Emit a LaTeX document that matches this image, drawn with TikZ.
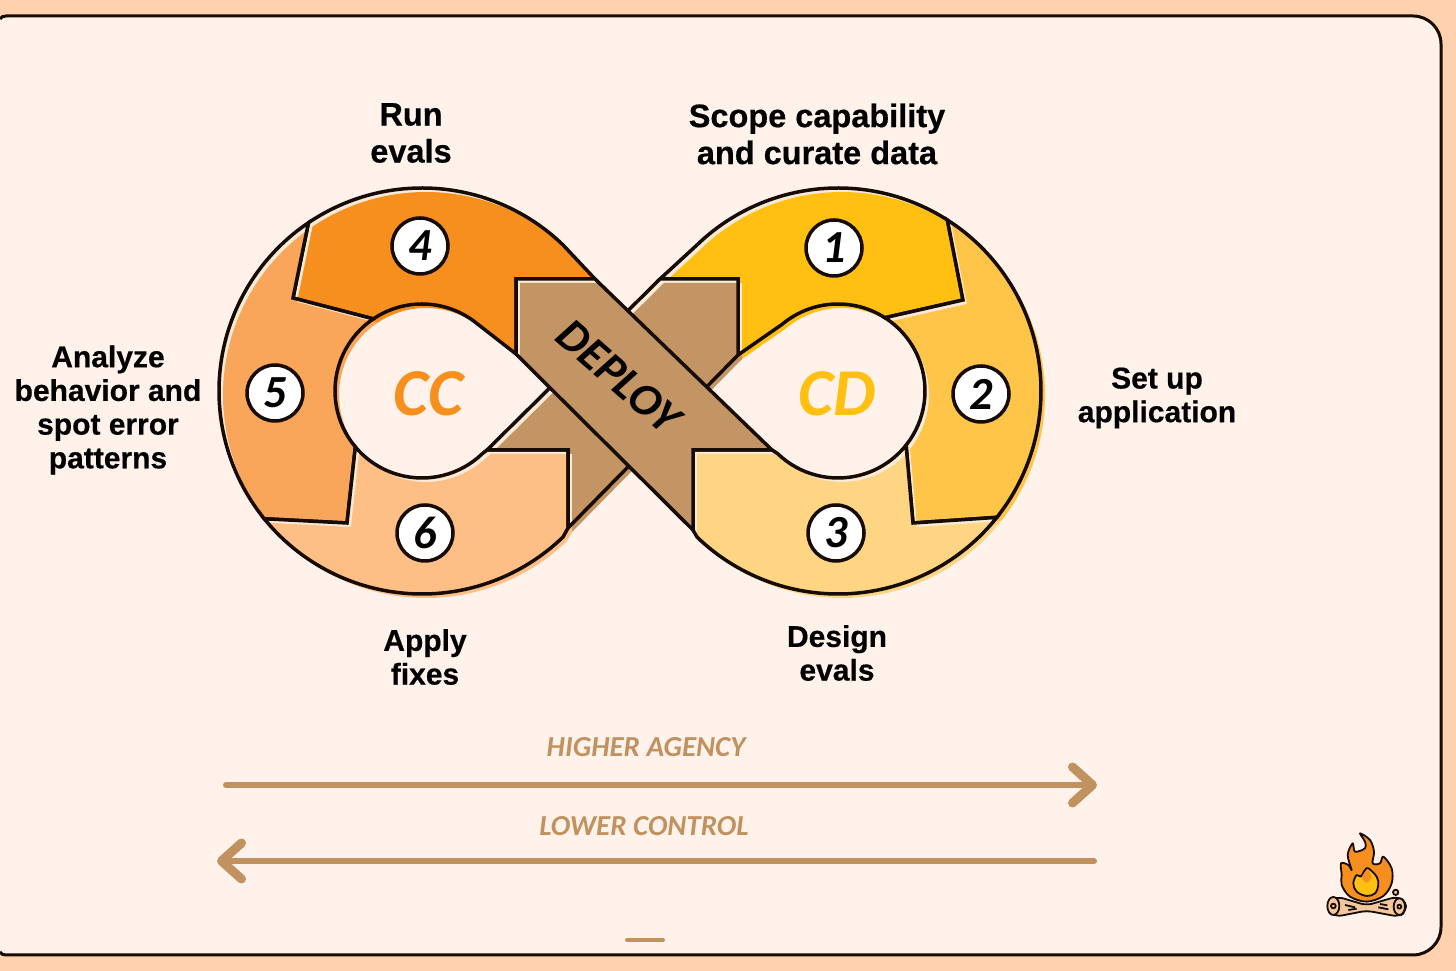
\documentclass[tikz,border=0pt]{standalone}
\usepackage{fontspec}
\usepackage{xcolor}
\usetikzlibrary{arrows.meta}
\setmainfont{Liberation Sans}[BoldFeatures={FakeBold=0.5}]
\newfontfamily\handfont{Carlito}
\definecolor{pagepeach}{HTML}{FFD1AE}
\definecolor{panelbg}{HTML}{FEF2EA}
\definecolor{inkline}{HTML}{170B05}
\definecolor{creamstrip}{HTML}{FBEBD6}
\definecolor{segfourcol}{HTML}{F68F1E}
\definecolor{segfivecol}{HTML}{F9A55A}
\definecolor{segsixcol}{HTML}{FDBF85}
\definecolor{segonecol}{HTML}{FFC011}
\definecolor{segtwocol}{HTML}{FEC548}
\definecolor{segthreecol}{HTML}{FDD583}
\definecolor{deploycol}{HTML}{C39464}
\definecolor{arrowcol}{HTML}{C1925F}
\definecolor{logcol}{HTML}{F1C79B}
\tikzset{
  steplabel/.style={font=\bfseries\fontsize{30}{33.7}\selectfont, align=center, text=black, inner sep=0pt},
  toplabel/.style={font=\bfseries\fontsize{32.5}{37}\selectfont, align=center, text=black, inner sep=0pt},
  stepnum/.style={circle, draw=inkline, line width=3.5pt, fill=white, minimum size=56pt, inner sep=0pt,
    font=\handfont\bfseries\itshape\fontsize{46}{46}\selectfont, text=black},
  loopname/.style={font=\handfont\bfseries\itshape\fontsize{67}{67}\selectfont, inner sep=0pt},
  axislabel/.style={font=\handfont\itshape\bfseries\fontsize{29}{29}\selectfont, text=arrowcol, inner sep=0pt},
  axisarrow/.style={draw=arrowcol, line width=6pt, line cap=round,
    -{Straight Barb[round, length=20pt, width=36pt, line width=9pt]}},
  outline/.style={draw=inkline, line width=3.5pt, line join=miter},
  fireline/.style={draw=inkline, line width=1.8pt, line join=round},
}
% ---- ring pieces, left loop centred on (422,580), right loop on (838,580) ----
\def\segfour{([shift={(124:203)}]422,580) arc[start angle=124, end angle=46, radius=203] -- (595,692) -- (516,692) -- (516,617) -- ([shift={(52:87)}]422,580) arc[start angle=52, end angle=124, radius=87] -- (293,673) -- cycle}
\def\segfive{([shift={(124:203)}]422,580) arc[start angle=124, end angle=219, radius=203] -- (347,448) -- ([shift={(220:87)}]422,580) arc[start angle=220, end angle=124, radius=87] -- (293,673) -- cycle}
\def\segsix{([shift={(219:203)}]422,580) arc[start angle=219, end angle=314, radius=203] -- (568,443) -- (568,521) -- (487,521) -- ([shift={(314:87)}]422,580) arc[start angle=314, end angle=220, radius=87] -- (347,448) -- cycle}
\def\segone{([shift={(57.4:203)}]838,580) arc[start angle=57.4, end angle=134, radius=203] -- (660,692) -- (738,692) -- (738,616) -- ([shift={(130:87)}]838,580) arc[start angle=130, end angle=57.4, radius=87] -- (963,671) -- cycle}
\def\segtwo{([shift={(57.4:203)}]838,580) arc[start angle=57.4, end angle=-38.5, radius=203] -- (913,448) -- ([shift={(-38.5:87)}]838,580) arc[start angle=-38.5, end angle=57.4, radius=87] -- (963,671) -- cycle}
\def\segthree{([shift={(-38.5:203)}]838,580) arc[start angle=-38.5, end angle=-134, radius=203] -- (693,441) -- (693,521) -- (772,521) -- ([shift={(-134:87)}]838,580) arc[start angle=-134, end angle=-38.5, radius=87] -- (913,448) -- cycle}
\def\bandback{(660,692) -- (738,692) -- (738,616) -- (568,443) -- (568,521) -- (487,521) -- cycle}
\def\bandfront{(516,692) -- (595,692) -- (772,521) -- (693,521) -- (693,441) -- (516,617) -- cycle}

\begin{document}
\begin{tikzpicture}[x=1pt, y=1pt]
\useasboundingbox (0,0) rectangle (1456,971);
\fill[pagepeach] (0,0) rectangle (1456,971);

% ---- panel ----
\fill[panelbg] (0,952) .. controls (1,954) and (3,955) .. (6,955) -- (1413,955)
  arc[start angle=90, end angle=0, radius=28] -- (1441,44)
  arc[start angle=0, end angle=-90, radius=28] -- (6,16)
  .. controls (3,16) and (1,17) .. (0,19) -- cycle;
\draw[inkline, line width=3pt] (0,952) .. controls (1,954) and (3,955) .. (6,955) -- (1413,955)
  arc[start angle=90, end angle=0, radius=28] -- (1441,44)
  arc[start angle=0, end angle=-90, radius=28] -- (6,16)
  .. controls (3,16) and (1,17) .. (0,19);

% ---- infinity loop: offset colour first, then cream and clipped colour, then ink ----
\foreach \shp/\col in {\bandback/deploycol, \bandfront/deploycol, \segfour/segfourcol, \segfive/segfivecol,
    \segsix/segsixcol, \segone/segonecol, \segtwo/segtwocol, \segthree/segthreecol} {
  \fill[\col, xshift=4pt, yshift=-4pt] \shp;
}
\foreach \shp/\col in {\segfour/segfourcol, \segfive/segfivecol, \segsix/segsixcol,
    \segone/segonecol, \segtwo/segtwocol, \segthree/segthreecol, \bandback/deploycol, \bandfront/deploycol} {
  \fill[creamstrip] \shp;
  \begin{scope}
    \clip \shp;
    \fill[\col, xshift=4pt, yshift=-4pt] \shp;
  \end{scope}
  \draw[outline] \shp;
}

% ---- step numbers and loop names ----
\node[stepnum] (num1) at (834,723) {1};
\node[stepnum] (num2) at (981,577) {2};
\node[stepnum] (num3) at (836,438) {3};
\node[stepnum] (num4) at (420,725) {4};
\node[stepnum] (num5) at (275,578) {5};
\node[stepnum] (num6) at (425,438) {6};
\node[loopname, text=segfourcol] (ccname) at (428,577) {CC};
\node[loopname, text=segonecol] (cdname) at (837,577) {CD};
\node[rotate=-41, inner sep=0pt, text=black, font=\handfont\bfseries\itshape\fontsize{46}{46}\selectfont] (deployname) at (619,594) {DEPLOY};

% ---- step labels ----
\node[toplabel] (runlabel) at (411,838) {Run\\evals};
\node[toplabel] (scopelabel) at (817,837) {Scope capability\\and curate data};
\node[steplabel] (setuplabel) at (1157,573) {Set up\\application};
\node[steplabel] (designlabel) at (837,318) {Design\\evals};
\node[steplabel] (applylabel) at (425,314) {Apply\\fixes};
\node[steplabel] (analyzelabel) at (108,561) {Analyze\\behavior and\\spot error\\patterns};

% ---- axes ----
\node[axislabel] (higherlabel) at (646,224) {HIGHER AGENCY};
\node[axislabel] (lowerlabel) at (644,145) {LOWER CONTROL};
\coordinate (higherstart) at (226,186);
\coordinate (higherend) at (1097,186);
\coordinate (lowerstart) at (1094,110);
\coordinate (lowerend) at (217,110);
\draw[axisarrow] (higherstart) -- (higherend);
\draw[axisarrow] (lowerstart) -- (lowerend);
\draw[arrowcol, line width=4pt, line cap=round] (627,31) -- (663,31);

% ---- campfire ----
\begin{scope}[shift={(1300,151)}, x=0.3333pt, y=-0.3333pt]
  \draw[fireline, fill=logcol, rounded corners=6pt] (112,230) -- (200,256) -- (290,230) -- (318,243)
    -- (318,275) -- (296,290) -- (200,272) -- (108,290) -- (84,274) -- (84,244) -- cycle;
  \draw[fireline, fill=logcol] (100,258) ellipse [x radius=18, y radius=27];
  \draw[fireline, fill=logcol] (298,260) ellipse [x radius=17, y radius=25];
  \draw[fireline] (100,258) circle [radius=7];
  \draw[fireline] (298,260) circle [radius=6];
  \draw[fireline] (135,255) -- (165,262) (145,270) -- (170,266) (235,262) -- (265,268) (240,252) -- (262,256);
  \draw[fireline, fill=logcol] (287,217) circle [radius=8];
  \draw[fireline, fill=segfourcol] plot[smooth cycle, tension=0.55] coordinates {(200,245) (150,230) (125,195)
    (125,165) (123,130) (145,135) (155,150) (143,105) (158,70) (165,95) (195,85) (195,65) (180,40) (210,60)
    (222,95) (218,130) (240,130) (250,110) (275,145) (275,190) (250,228)};
  \draw[fireline, fill=segonecol] plot[smooth cycle, tension=0.6] coordinates {(200,228) (170,215) (160,190)
    (170,165) (182,170) (195,150) (205,145) (230,170) (235,195) (225,220)};
  \fill[segfourcol] plot[smooth cycle, tension=0.6] coordinates {(200,188) (186,172) (203,150) (213,172)};
\end{scope}
\end{tikzpicture}
\end{document}
